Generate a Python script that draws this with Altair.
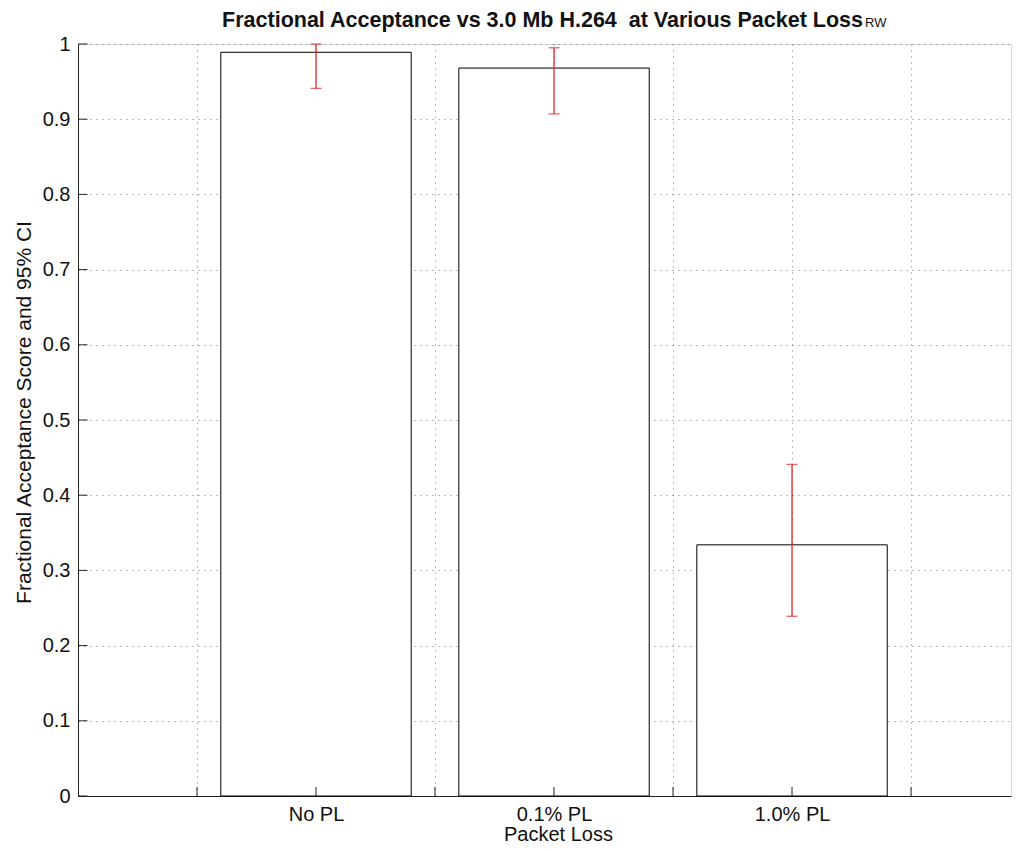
import altair as alt
import pandas as pd

categories = ["No PL", "0.1% PL", "1.0% PL"]
positions = [1, 2, 3]
scores = [0.989, 0.968, 0.334]
ci_low = [0.941, 0.907, 0.239]
ci_high = [1.0, 0.995, 0.441]

x_ticks = [0.5, 1, 1.5, 2, 2.5, 3, 3.5]
y_ticks = [0, 0.1, 0.2, 0.3, 0.4, 0.5, 0.6, 0.7, 0.8, 0.9, 1.0]

df = pd.DataFrame({"cat": categories, "pos": positions, "score": scores,
                   "lo": ci_low, "hi": ci_high})
xt = pd.DataFrame({"t": x_ticks})
yt = pd.DataFrame({"t": y_ticks})

FONT = "Liberation Sans"
W, H = 933, 752
XMAX = 3.92
LS = 20
TS = 21

label_expr = ("datum.value == 1 ? 'No PL' : datum.value == 2 ? '0.1% PL' : "
              "datum.value == 3 ? '1.0% PL' : ''")

xscale = alt.Scale(domain=[0, XMAX], nice=False, zero=False)
yscale = alt.Scale(domain=[0, 1], nice=False)

xaxis = alt.Axis(values=x_ticks, labelExpr=label_expr, title="Packet Loss",
                 grid=True, gridDash=[1, 5], gridColor="#777777", gridWidth=1,
                 ticks=False, domainColor="#222222", labelFont=FONT, labelFontSize=LS,
                 labelColor="#111111", labelPadding=8, titleFont=FONT,
                 titleFontSize=20, titleFontWeight="normal", titleColor="#111111",
                 titlePadding=0, titleX=480)
yaxis = alt.Axis(values=y_ticks, format="~g", title="Fractional Acceptance Score and 95% CI",
                 grid=True, gridDash=[1, 5], gridColor="#777777", gridWidth=1,
                 ticks=False, domainColor="#222222", labelFont=FONT, labelFontSize=LS,
                 labelColor="#111111", labelPadding=8, titleFont=FONT,
                 titleFontSize=TS, titleFontWeight="normal", titleColor="#111111",
                 titlePadding=8, titleY=368)

base = alt.Chart(df)

bars = base.transform_calculate(
    x0="datum.pos - 0.4", x1="datum.pos + 0.4"
).mark_bar(fill="white", stroke="black", strokeWidth=1).encode(
    x=alt.X("x0:Q", scale=xscale, axis=xaxis),
    x2="x1:Q",
    y=alt.Y("score:Q", scale=yscale, axis=yaxis),
    y2=alt.datum(0),
)

err = base.mark_rule(color="#e0262a", strokeWidth=1.3).encode(
    x=alt.X("pos:Q", scale=xscale), y=alt.Y("lo:Q", scale=yscale), y2="hi:Q")
cap_lo = base.mark_tick(color="#e0262a", orient="horizontal", size=11, thickness=1.3).encode(
    x=alt.X("pos:Q", scale=xscale), y=alt.Y("lo:Q", scale=yscale))
cap_hi = base.mark_tick(color="#e0262a", orient="horizontal", size=11, thickness=1.3).encode(
    x=alt.X("pos:Q", scale=xscale), y=alt.Y("hi:Q", scale=yscale))

xticks = alt.Chart(xt).transform_calculate(top="0.012").mark_rule(
    color="#222222", strokeWidth=1).encode(
    x=alt.X("t:Q", scale=xscale), y=alt.Y("top:Q", scale=yscale), y2=alt.datum(0))
yticks = alt.Chart(yt).transform_calculate(right="0.04").mark_rule(
    color="#222222", strokeWidth=1).encode(
    y=alt.Y("t:Q", scale=yscale), x=alt.X("right:Q", scale=xscale), x2=alt.datum(0))

title_main = alt.Chart(pd.DataFrame({"s": ["Fractional Acceptance vs 3.0 Mb H.264\u00a0 at Various Packet Loss"]})).mark_text(
    align="right", baseline="alphabetic", font=FONT, fontSize=21.5, fontWeight="bold",
    color="#111111").encode(text="s:N", x=alt.value(785), y=alt.value(-17))
title_sub = alt.Chart(pd.DataFrame({"s": ["RW"]})).mark_text(
    align="left", baseline="alphabetic", font=FONT, fontSize=13,
    color="#111111").encode(text="s:N", x=alt.value(787), y=alt.value(-17))

chart = alt.layer(bars, err, cap_lo, cap_hi, xticks, yticks, title_main, title_sub).properties(
    width=W, height=H,
    autosize=alt.AutoSizeParams(type="none"),
    padding={"left": 70, "top": 36, "right": 5, "bottom": 48},
).configure_view(stroke=None).configure(background="white")

chart.save("out.html", embed_options={"renderer": "svg", "actions": False})
